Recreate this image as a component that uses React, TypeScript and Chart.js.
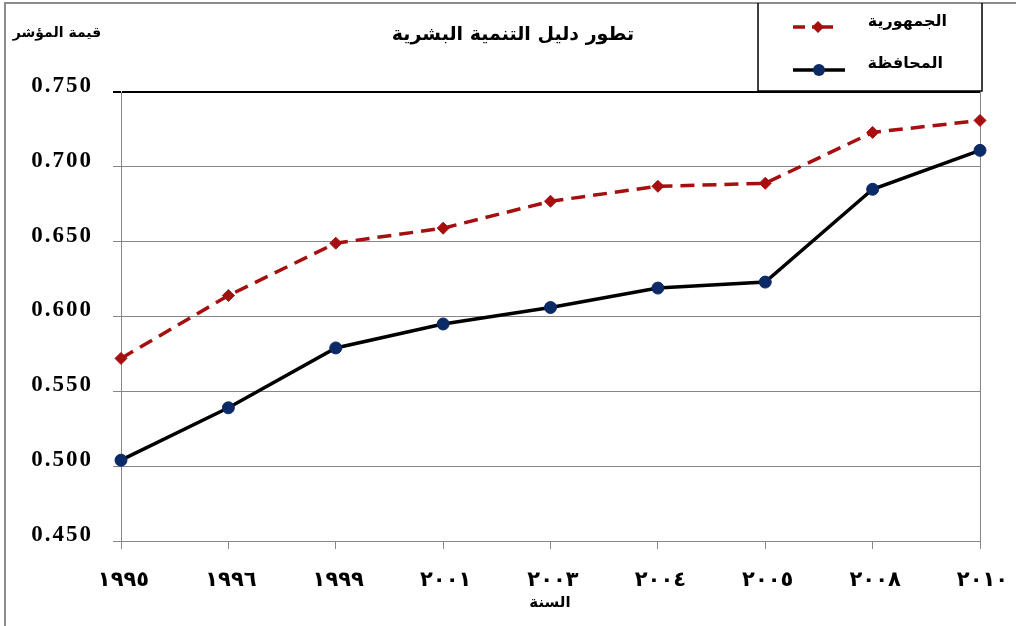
import React, { useEffect, useRef } from "react";
import { Chart, registerables } from "chart.js";

Chart.register(...registerables);

// ---- data ----
const years = ["١٩٩٥", "١٩٩٦", "١٩٩٩", "٢٠٠١", "٢٠٠٣", "٢٠٠٤", "٢٠٠٥", "٢٠٠٨", "٢٠١٠"];
const republic = [0.572, 0.614, 0.649, 0.659, 0.677, 0.687, 0.689, 0.723, 0.731];
const governorate = [0.504, 0.539, 0.579, 0.595, 0.606, 0.619, 0.623, 0.685, 0.711];
const yTickValues = [0.45, 0.5, 0.55, 0.6, 0.65, 0.7, 0.75];
const seriesNames = ["الجمهورية", "المحافظة"];
const chartTitle = "تطور دليل التنمية البشرية";
const yAxisTitle = "قيمة المؤشر";
const xAxisTitle = "السنة";

const GRAY = "#868686";
const RED = "#A50F0F";
const NAVY = "#0B2A66";
const ARABIC = "'DejaVu Sans', sans-serif";

const textPlugin = {
  id: "customText",
  afterDraw(chart: any) {
    const ctx = chart.ctx as CanvasRenderingContext2D;
    const xs = chart.scales.x;
    const ys = chart.scales.y;
    ctx.save();

    // outer frame (left + top)
    ctx.strokeStyle = "#8c8c8c";
    ctx.lineWidth = 2;
    ctx.beginPath();
    ctx.moveTo(5, 626);
    ctx.lineTo(5, 3);
    ctx.lineTo(1016, 3);
    ctx.stroke();

    // y tick labels
    ctx.fillStyle = "#000";
    ctx.font = "bold 23px 'Liberation Serif', serif";
    (ctx as any).letterSpacing = "2px";
    ctx.textAlign = "right";
    ctx.textBaseline = "middle";
    yTickValues.forEach((v) => {
      const y = ys.getPixelForValue(v);
      ctx.fillText(v.toFixed(3), 93, y - 6);
    });

    // x tick labels
    ctx.font = `bold 21px ${ARABIC}`;
    (ctx as any).letterSpacing = "5px";
    ctx.textAlign = "center";
    years.forEach((lab, i) => {
      const x = xs.getPixelForValue(i);
      ctx.fillText(lab, x + 2.5, 581);
    });
    (ctx as any).letterSpacing = "0px";

    // titles
    ctx.font = `bold 19px ${ARABIC}`;
    ctx.fillText(chartTitle, 513, 35);
    ctx.font = `bold 14px ${ARABIC}`;
    ctx.fillText(yAxisTitle, 57, 33);
    ctx.font = `bold 15px ${ARABIC}`;
    ctx.fillText(xAxisTitle, 550, 603);

    // legend box
    ctx.strokeStyle = "#000";
    ctx.lineWidth = 1.5;
    ctx.beginPath();
    ctx.moveTo(758, 3);
    ctx.lineTo(758, 91);
    ctx.lineTo(982, 91);
    ctx.lineTo(982, 3);
    ctx.stroke();

    // legend entries
    ctx.textAlign = "right";
    ctx.font = `bold 16px ${ARABIC}`;
    ctx.fillText(seriesNames[0], 947, 22);
    ctx.fillText(seriesNames[1], 943, 64);

    ctx.strokeStyle = RED;
    ctx.lineWidth = 3.5;
    ctx.beginPath();
    ctx.moveTo(793, 27);
    ctx.lineTo(805, 27);
    ctx.moveTo(812, 27);
    ctx.lineTo(833, 27);
    ctx.stroke();
    ctx.fillStyle = RED;
    ctx.beginPath();
    ctx.moveTo(818, 21);
    ctx.lineTo(824, 27);
    ctx.lineTo(818, 33);
    ctx.lineTo(812, 27);
    ctx.closePath();
    ctx.fill();

    ctx.strokeStyle = "#000";
    ctx.beginPath();
    ctx.moveTo(793, 70);
    ctx.lineTo(845, 70);
    ctx.stroke();
    ctx.fillStyle = NAVY;
    ctx.beginPath();
    ctx.arc(819, 70, 6, 0, Math.PI * 2);
    ctx.fill();

    ctx.restore();
  },
};

const isTop = (v: number) => Math.abs(v - 0.75) < 1e-6;

export default function App() {
  const ref = useRef<HTMLCanvasElement>(null);
  useEffect(() => {
    if (!ref.current) return;
    const chart = new Chart(ref.current, {
      type: "line",
      data: {
        labels: years,
        datasets: [
          {
            label: seriesNames[0],
            data: republic,
            borderColor: RED,
            backgroundColor: RED,
            borderWidth: 3.5,
            borderDash: [14, 8],
            pointStyle: "rectRot",
            pointRadius: 6,
            pointBackgroundColor: RED,
            pointBorderColor: RED,
            pointBorderWidth: 1,
            tension: 0,
          },
          {
            label: seriesNames[1],
            data: governorate,
            borderColor: "#000",
            backgroundColor: NAVY,
            borderWidth: 3.5,
            pointStyle: "circle",
            pointRadius: 6,
            pointBackgroundColor: NAVY,
            pointBorderColor: NAVY,
            pointBorderWidth: 1,
            tension: 0,
          },
        ],
      },
      options: {
        responsive: false,
        animation: false,
        layout: { padding: { left: 0, right: 36, top: 92, bottom: 0 } },
        plugins: {
          legend: { display: false },
          title: { display: false },
          tooltip: { enabled: false },
        },
        scales: {
          x: {
            type: "category",
            offset: false,
            grid: {
              color: (c: any) => (c.index === years.length - 1 ? GRAY : "rgba(0,0,0,0)"),
              tickColor: GRAY,
              tickLength: 8,
              drawOnChartArea: true,
            },
            border: { display: true, color: GRAY },
            ticks: { display: false },
            afterFit: (s: any) => {
              s.height = 85;
            },
          },
          y: {
            min: 0.45,
            max: 0.75,
            ticks: { display: false, stepSize: 0.05 },
            grid: {
              color: (c: any) => (c.tick && isTop(c.tick.value) ? "#000" : GRAY),
              tickColor: (c: any) => (c.tick && isTop(c.tick.value) ? "#000" : GRAY),
              lineWidth: (c: any) => (c.tick && isTop(c.tick.value) ? 2 : 1),
              tickLength: 8,
            },
            border: { display: true, color: GRAY },
            afterFit: (s: any) => {
              s.width = 121;
            },
          },
        },
      },
      plugins: [textPlugin],
    } as any);
    return () => chart.destroy();
  }, []);
  return (
    <div style={{ position: "absolute", left: 0, top: 0, width: 1016, height: 626, background: "#fff" }}>
      <canvas ref={ref} width={1016} height={626} style={{ display: "block" }} />
    </div>
  );
}
